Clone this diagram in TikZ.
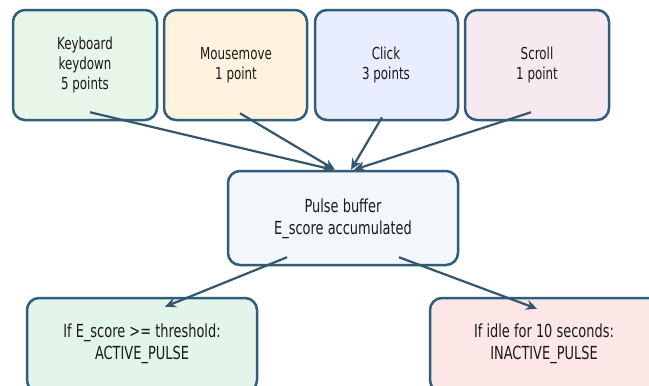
\documentclass[tikz,border=0pt]{standalone}
\usepackage{fontspec}
\setmainfont{DejaVu Sans}[FakeStretch=0.72]
\usetikzlibrary{arrows.meta}
\definecolor{bord}{HTML}{2F5D7C}
\definecolor{arrc}{HTML}{36566E}
\definecolor{txtc}{HTML}{1A1A1A}
\definecolor{fkb}{HTML}{E8F5E9}
\definecolor{fmm}{HTML}{FFF3E0}
\definecolor{fcl}{HTML}{E8EEFD}
\definecolor{fsc}{HTML}{F7E9F0}
\definecolor{fpb}{HTML}{F3F6FA}
\definecolor{fac}{HTML}{E3F4EA}
\definecolor{fin}{HTML}{FDE7E6}
\begin{document}
\begin{tikzpicture}[x=1pt,y=-1pt,
  box/.style={draw=bord, line width=2.5pt, rounded corners=12pt, inner sep=0pt},
  topbox/.style={box, minimum width=144pt, minimum height=110pt},
  bigbox/.style={box, minimum width=230pt, minimum height=94pt},
  lbl/.style={align=center, text=txtc, inner sep=0pt},
  toplbl/.style={lbl, font=\fontsize{16.5}{20}\selectfont},
  biglbl/.style={lbl, font=\fontsize{18}{22}\selectfont},
  arr/.style={draw=arrc, line width=2.2pt, -{Stealth[length=11pt,width=10pt]}}]
\useasboundingbox (0,0) rectangle (649,386);
\clip (0,0) rectangle (649,386);
\fill[white] (0,0) rectangle (649,386);
% top boxes
\node[topbox, fill=fkb] (kb) at (85,65) {};
\node[toplbl] (kbt) at (85,65) {Keyboard\\keydown\\5 points};
\node[topbox, fill=fmm, minimum width=143pt] (mm) at (235.5,65) {};
\node[toplbl] (mmt) at (236,65) {Mousemove\\1 point};
\node[topbox, fill=fcl, minimum width=143pt] (cl) at (386.5,65) {};
\node[toplbl] (clt) at (386,65) {Click\\3 points};
\node[topbox, fill=fsc] (sc) at (537,65) {};
\node[toplbl] (sct) at (537,65) {Scroll\\1 point};
% pulse buffer
\node[bigbox, fill=fpb] (pb) at (343,218) {};
\node[biglbl] (pbt) at (343,219) {Pulse buffer\\E\_score accumulated};
% bottom boxes
\node[bigbox, fill=fac] (ac) at (142,345) {};
\node[biglbl] (act) at (142,344) {If E\_score >= threshold:\\ACTIVE\_PULSE};
\node[bigbox, fill=fin] (in) at (545,345) {};
\node[biglbl] (int) at (544,344) {If idle for 10 seconds:\\INACTIVE\_PULSE};
% arrows
\draw[arr] ([xshift=5pt,yshift=9pt]kb.south) -- ([xshift=-10pt]pb.north);
\draw[arr] ([xshift=4.5pt,yshift=8pt]mm.south) -- ([xshift=-8pt]pb.north);
\draw[arr] ([xshift=-4.5pt,yshift=4pt]cl.south) -- ([xshift=8pt]pb.north);
\draw[arr] ([xshift=-6pt,yshift=9pt]sc.south) -- ([xshift=11pt]pb.north);
\draw[arr] ([xshift=-56pt,yshift=9pt]pb.south) -- ([xshift=23pt,yshift=-10pt]ac.north);
\draw[arr] ([xshift=56pt,yshift=9pt]pb.south) -- ([xshift=-8pt,yshift=-12pt]in.north);
\end{tikzpicture}
\end{document}
